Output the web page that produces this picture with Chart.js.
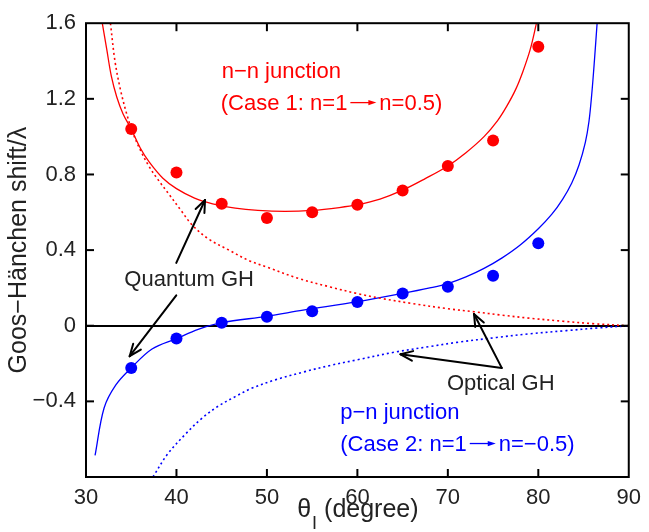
<!DOCTYPE html>
<html>
<head>
<meta charset="utf-8">
<script src="https://cdn.jsdelivr.net/npm/chart.js@4.4.1/dist/chart.umd.min.js"></script>
<style>
  html, body { margin: 0; padding: 0; background: #fff; }
  canvas { display: block; }
</style>
</head>
<body>
<canvas id="gh" width="649" height="532"></canvas>
<script>
// incidence angles (degree) of the computed points
const angles = [35, 40, 45, 50, 55, 60, 65, 70, 75, 80];
const nnShift = [1.04, 0.81, 0.645, 0.57, 0.60, 0.64, 0.715, 0.845, 0.98, 1.475];
const pnShift = [-0.223, -0.068, 0.016, 0.047, 0.077, 0.125, 0.171, 0.206, 0.264, 0.436];

// curves
const nnQuantumX = [31.8, 32.3, 32.8, 33.4, 34.1, 35, 36, 37, 38.5, 40, 42, 44, 46.5, 49, 52, 55, 58, 60, 62.5, 65, 67.5, 70, 72, 74, 75.5, 76.5, 77.5, 78.3, 79.1, 79.8];
const nnQuantumY = [1.6, 1.46, 1.32, 1.21, 1.12, 1.04, 0.94, 0.865, 0.78, 0.725, 0.675, 0.645, 0.622, 0.61, 0.605, 0.61, 0.625, 0.64, 0.67, 0.717, 0.778, 0.845, 0.915, 1.0, 1.085, 1.16, 1.25, 1.345, 1.46, 1.6];

const nnOpticalX = [32.7, 33.2, 33.8, 34.5, 35.1, 36, 37, 38, 39.1, 40.5, 41.7, 43.5, 45.8, 48, 50, 53.5, 57, 60, 62.6, 66, 70, 72.9, 76, 79, 82.7, 86, 90];
const nnOpticalY = [1.6, 1.4, 1.25, 1.12, 1.03, 0.93, 0.84, 0.77, 0.70, 0.61, 0.535, 0.46, 0.40, 0.345, 0.31, 0.25, 0.205, 0.17, 0.145, 0.118, 0.09, 0.074, 0.056, 0.04, 0.024, 0.011, 0];

const pnQuantumX = [31, 32, 33.3, 35, 37.3, 40, 42.4, 45, 50, 54, 60, 65, 68, 70, 72, 74, 76, 78, 80, 81.5, 82.7, 83.7, 84.5, 85.2, 85.6, 85.9, 86.2, 86.5];
const pnQuantumY = [-0.686, -0.435, -0.313, -0.223, -0.123, -0.068, -0.019, 0.016, 0.05, 0.082, 0.127, 0.171, 0.2, 0.223, 0.258, 0.303, 0.359, 0.427, 0.513, 0.59, 0.67, 0.755, 0.85, 0.97, 1.08, 1.22, 1.4, 1.6];

const pnOpticalX = [37.4, 39, 41, 42.8, 44.6, 46.5, 48.3, 51, 54.1, 57, 60, 64.1, 68, 71, 75.4, 79, 83.1, 86.5, 90];
const pnOpticalY = [-0.8, -0.68, -0.573, -0.49, -0.426, -0.375, -0.331, -0.285, -0.244, -0.21, -0.18, -0.14, -0.11, -0.088, -0.062, -0.043, -0.026, -0.012, 0];

// axis ticks
const xTicks = [30, 40, 50, 60, 70, 80, 90];
const yTicks = [-0.8, -0.4, 0, 0.4, 0.8, 1.2, 1.6];

const RED = '#ff0000';
const BLUE = '#0000ff';
const INK = '#222222';
const FONT = '"Liberation Sans", Arial, Helvetica, sans-serif';

// labels and arrows, in data units ('>' marks a drawn arrow inside a label)
const notes = [
    {text: 'n\u2212n junction', x: 45.0, y: 1.309, color: RED, align: 'left'},
    {text: '(Case 1: n=1>n=0.5)', x: 44.9, y: 1.143, color: RED, align: 'left'},
    {text: 'Quantum GH', x: 41.4, y: 0.208, color: INK, align: 'center'},
    {text: 'Optical GH', x: 69.9, y: -0.338, color: INK, align: 'left'},
    {text: 'p\u2212n junction', x: 58.1, y: -0.494, color: BLUE, align: 'left'},
    {text: '(Case 2: n=1>n=\u22120.5)', x: 58.1, y: -0.66, color: BLUE, align: 'left'}
];
const arrows = [
    [39.98, 0.332, 43.16, 0.665],
    [39.98, 0.161, 34.83, -0.161],
    [75.96, -0.223, 72.89, 0.062],
    [75.96, -0.223, 64.77, -0.151]
];

const pts = (xs, ys) => xs.map((x, i) => ({x: x, y: ys[i]}));

function curve(xs, ys, color, dotted) {
    return {
        data: pts(xs, ys),
        showLine: true,
        borderColor: color,
        borderWidth: dotted ? 1.6 : 1.3,
        borderDash: dotted ? [2, 3] : [],
        pointRadius: 0,
        tension: 0.35
    };
}

function dots(ys, color) {
    return {
        data: pts(angles, ys),
        showLine: false,
        pointRadius: 6,
        pointBackgroundColor: color,
        pointBorderWidth: 0
    };
}

function line(ctx, x1, y1, x2, y2) {
    ctx.beginPath();
    ctx.moveTo(x1, y1);
    ctx.lineTo(x2, y2);
    ctx.stroke();
}

// text with small drawn arrows in place of '>'
function noteText(ctx, n, px, py) {
    const parts = n.text.split('>');
    const gap = 3, arLen = 26;
    let total = 0;
    parts.forEach((p, i) => { total += ctx.measureText(p).width + (i ? arLen + 2 * gap : 0); });
    let cx = n.align === 'center' ? px - total / 2 : px;
    ctx.textAlign = 'left';
    ctx.fillStyle = n.color;
    ctx.strokeStyle = n.color;
    parts.forEach((p, i) => {
        if (i) {
            const ay = py - 7;
            const x0 = cx + gap, x1 = cx + gap + arLen;
            ctx.lineWidth = 1.3;
            line(ctx, x0, ay, x1 - 6, ay);
            ctx.beginPath();
            ctx.moveTo(x1, ay);
            ctx.lineTo(x1 - 8, ay - 2.6);
            ctx.lineTo(x1 - 8, ay + 2.6);
            ctx.closePath();
            ctx.fill();
            cx = x1 + gap;
        }
        ctx.fillText(p, cx, py);
        cx += ctx.measureText(p).width;
    });
}

let decor = {
    id: 'decor',
    afterDatasetsDraw(chart) {
        const {ctx, chartArea: a, scales: {x, y}} = chart;
        ctx.save();

        // arrows
        ctx.strokeStyle = '#000';
        ctx.lineWidth = 2;
        ctx.lineCap = 'round';
        arrows.forEach(ar => {
            const x1 = x.getPixelForValue(ar[0]), y1 = y.getPixelForValue(ar[1]);
            const x2 = x.getPixelForValue(ar[2]), y2 = y.getPixelForValue(ar[3]);
            const ang = Math.atan2(y2 - y1, x2 - x1);
            line(ctx, x1, y1, x2, y2);
            [0.38, -0.38].forEach(d => {
                line(ctx, x2, y2, x2 - 13 * Math.cos(ang + d), y2 - 13 * Math.sin(ang + d));
            });
        });

        // text labels
        ctx.lineCap = 'butt';
        ctx.font = '22px ' + FONT;
        ctx.textBaseline = 'alphabetic';
        notes.forEach(n => noteText(ctx, n, x.getPixelForValue(n.x), y.getPixelForValue(n.y)));

        // frame with inward ticks
        ctx.strokeStyle = '#000';
        ctx.lineWidth = 2;
        ctx.strokeRect(a.left, a.top, a.right - a.left, a.bottom - a.top);
        xTicks.forEach(v => {
            const px = x.getPixelForValue(v);
            if (px <= a.left + 1 || px >= a.right - 1) return;
            line(ctx, px, a.bottom, px, a.bottom - 8);
            line(ctx, px, a.top, px, a.top + 8);
        });
        yTicks.forEach(v => {
            const py = y.getPixelForValue(v);
            if (py <= a.top + 1 || py >= a.bottom - 1) return;
            line(ctx, a.left, py, a.left + 8, py);
            line(ctx, a.right, py, a.right - 8, py);
        });

        // x title with subscript
        const big = '25px ' + FONT, small = '18px ' + FONT;
        ctx.fillStyle = INK;
        ctx.textAlign = 'left';
        ctx.font = big;
        const wT = ctx.measureText('\u03b8').width;
        const wR = ctx.measureText(' (degree)').width;
        ctx.font = small;
        const wI = ctx.measureText('I').width;
        let sx = (a.left + a.right) / 2 - (wT + wI + wR) / 2;
        const base = 517;
        ctx.font = big;
        ctx.fillText('\u03b8', sx, base);
        ctx.font = small;
        ctx.fillText('I', sx + wT + 1, base + 12);
        ctx.font = big;
        ctx.fillText(' (degree)', sx + wT + wI + 1, base);

        ctx.restore();
    }
};

Chart.defaults.font.family = FONT;
Chart.defaults.color = INK;

let chart = new Chart(document.getElementById('gh').getContext('2d'), {
    type: 'scatter',
    data: {
        datasets: [
            dots(nnShift, RED),
            dots(pnShift, BLUE),
            curve(nnQuantumX, nnQuantumY, RED, false),
            curve(nnOpticalX, nnOpticalY, RED, true),
            curve(pnQuantumX, pnQuantumY, BLUE, false),
            curve(pnOpticalX, pnOpticalY, BLUE, true)
        ]
    },
    options: {
        responsive: false,
        animation: false,
        events: [],
        layout: {padding: {top: 15, right: 16, left: 0, bottom: 0}},
        plugins: {legend: {display: false}, tooltip: {enabled: false}},
        scales: {
            x: {
                type: 'linear',
                min: 30,
                max: 90,
                afterBuildTicks: s => { s.ticks = xTicks.map(v => ({value: v})); },
                afterFit: s => { s.height = 55; },
                ticks: {font: {size: 22}, color: INK, padding: 8, maxRotation: 0},
                grid: {display: false, drawTicks: false},
                border: {display: false}
            },
            y: {
                type: 'linear',
                min: -0.8,
                max: 1.6,
                afterBuildTicks: s => { s.ticks = yTicks.map(v => ({value: v})); },
                afterFit: s => { s.width = 86; },
                ticks: {
                    font: {size: 22},
                    color: INK,
                    padding: 10,
                    callback: v => {
                        if (Math.abs(v) < 1e-9) return '0';
                        if (v < -0.79) return '';
                        return v.toFixed(1).replace('-', '\u2212');
                    }
                },
                grid: {
                    drawTicks: false,
                    color: c => (c.tick && Math.abs(c.tick.value) < 1e-9) ? '#000' : 'rgba(0,0,0,0)',
                    lineWidth: 2
                },
                border: {display: false},
                title: {
                    display: true,
                    text: 'Goos\u2212H\u00e4nchen shift/\u03bb',
                    color: INK,
                    font: {size: 25},
                    padding: {top: 4, bottom: 0}
                }
            }
        }
    },
    plugins: [decor]
});
</script>
</body>
</html>
